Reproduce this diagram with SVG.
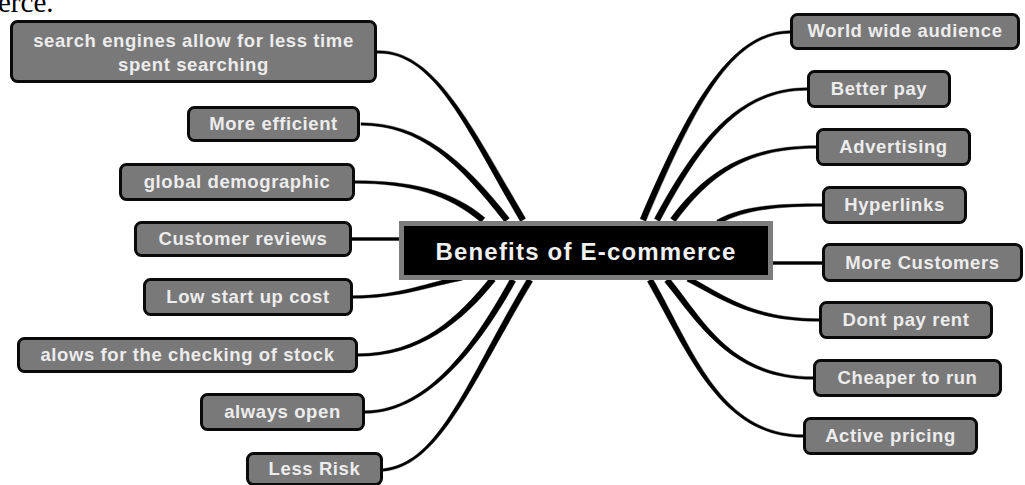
<svg xmlns="http://www.w3.org/2000/svg" width="1025" height="485" viewBox="0 0 1025 485">
<style>
.node rect{fill:#797979;stroke:#0a0a0a;stroke-width:3}
.node text{font-family:"Liberation Sans",Arial,sans-serif;font-weight:bold;font-size:18.5px;letter-spacing:0.6px;fill:#ececec;text-anchor:middle}
#connectors path{fill:#000;stroke:#000;stroke-width:0.4;stroke-linejoin:round}
.title rect{fill:#000;stroke:#7d7d7d;stroke-width:5}
.title text{font-family:"Liberation Sans",Arial,sans-serif;font-weight:bold;font-size:24px;letter-spacing:1.2px;fill:#f0f0f0;text-anchor:middle}
</style>
<rect width="1025" height="485" fill="#fff"/>
<text x="-2" y="12" font-family="'Liberation Serif','Times New Roman',serif" font-size="29" fill="#000">erce.</text>
<g id="connectors">
<path d="M377,53.3 C435,51.3 467.4,131.5 520.4,221.5 L525.6,218.5 C472.6,128.5 435,48.7 377,50.7 Z"/>
<path d="M361,125.3 C420,125.3 457.6,161.9 504.6,221.9 L509.4,218.2 C462.4,158.2 420,122.7 361,122.7 Z"/>
<path d="M355,183.3 C410,183.3 448.1,194.3 481.1,222.3 L484.9,217.7 C451.9,189.7 410,180.7 355,180.7 Z"/>
<path d="M352,237.5 L401,237.5 L401,240.5 L352,240.5 Z"/>
<path d="M353,298.3 C400,298.3 430.4,286.2 462.4,280.2 L461.6,275.8 C429.6,281.8 400,295.7 353,295.7 Z"/>
<path d="M358,356.3 C420,356.3 462.3,321.9 495.3,280.9 L490.7,277.1 C457.7,318.1 420,353.7 358,353.7 Z"/>
<path d="M365,413.3 C430,413.3 482.6,341.5 515.6,281.5 L510.4,278.5 C477.4,338.5 430,410.7 365,410.7 Z"/>
<path d="M383.1,471.3 C440.1,466.3 472.6,381.5 532.6,281.5 L527.4,278.5 C467.4,378.5 439.9,463.7 382.9,468.7 Z"/>
<path d="M790,30.7 C730,30.7 687.2,108.8 640.2,218.8 L645.8,221.2 C692.8,111.2 730,33.3 790,33.3 Z"/>
<path d="M807,87.7 C740,87.7 697.4,138.6 654.4,218.6 L659.6,221.4 C702.6,141.4 740,90.3 807,90.3 Z"/>
<path d="M816,145.7 C750,145.7 707.6,168.2 670.6,218.2 L675.4,221.8 C712.4,171.8 750,148.3 816,148.3 Z"/>
<path d="M822,203.7 C780,203.7 743.8,205.1 716.8,220.1 L719.2,223.9 C746.2,208.9 780,206.3 822,206.3 Z"/>
<path d="M771,261.5 L823,261.5 L823,264.5 L771,264.5 Z"/>
<path d="M819,318.7 C750,318.7 721.1,292.8 689.1,276.8 L686.9,281.2 C718.9,297.2 750,321.3 819,321.3 Z"/>
<path d="M813,376.7 C730,376.7 702.3,318.1 669.3,278.1 L664.7,281.9 C697.7,321.9 730,379.3 813,379.3 Z"/>
<path d="M803,434.7 C720,434.7 692.6,348.5 652.6,278.5 L647.4,281.5 C687.4,351.5 720,437.3 803,437.3 Z"/>
</g>
<g id="center" class="title">
<rect x="401.5" y="223.5" width="369" height="54"/>
<text x="586" y="260">Benefits of E-commerce</text>
</g>
<g id="n-search" class="node"><rect x="11.5" y="21.5" width="364" height="60" rx="6"/><text x="193.5" y="47">search engines allow for less time</text><text x="193.5" y="71">spent searching</text></g>
<g id="n-efficient" class="node"><rect x="188.5" y="107.5" width="170" height="33" rx="6"/><text x="273.5" y="130">More efficient</text></g>
<g id="n-global" class="node"><rect x="120.5" y="164.5" width="233" height="35" rx="6"/><text x="237" y="188">global demographic</text></g>
<g id="n-reviews" class="node"><rect x="135.5" y="222.5" width="215" height="33" rx="6"/><text x="243" y="245">Customer reviews</text></g>
<g id="n-lowcost" class="node"><rect x="144.5" y="279.5" width="207" height="35" rx="6"/><text x="248" y="303">Low start up cost</text></g>
<g id="n-stock" class="node"><rect x="18.5" y="338.5" width="338" height="33" rx="6"/><text x="187.5" y="361">alows for the checking of stock</text></g>
<g id="n-open" class="node"><rect x="201.5" y="394.5" width="162" height="35" rx="6"/><text x="282.5" y="418">always open</text></g>
<g id="n-risk" class="node"><rect x="247.5" y="453.5" width="134" height="31" rx="6"/><text x="314.5" y="475">Less Risk</text></g>
<g id="n-world" class="node"><rect x="791.5" y="14.5" width="227" height="34" rx="6"/><text x="905" y="37">World wide audience</text></g>
<g id="n-pay" class="node"><rect x="808.5" y="71.5" width="141" height="35" rx="6"/><text x="879" y="95">Better pay</text></g>
<g id="n-adv" class="node"><rect x="817.5" y="129.5" width="152" height="35" rx="6"/><text x="893.5" y="153">Advertising</text></g>
<g id="n-hyper" class="node"><rect x="823.5" y="187.5" width="142" height="35" rx="6"/><text x="894.5" y="211">Hyperlinks</text></g>
<g id="n-customers" class="node"><rect x="823.5" y="244.5" width="198" height="36" rx="6"/><text x="922.5" y="269">More Customers</text></g>
<g id="n-rent" class="node"><rect x="820.5" y="302.5" width="171" height="35" rx="6"/><text x="906" y="326">Dont pay rent</text></g>
<g id="n-cheaper" class="node"><rect x="814.5" y="360.5" width="186" height="35" rx="6"/><text x="907.5" y="384">Cheaper to run</text></g>
<g id="n-pricing" class="node"><rect x="804.5" y="418.5" width="172" height="35" rx="6"/><text x="890.5" y="442">Active pricing</text></g>
</svg>
